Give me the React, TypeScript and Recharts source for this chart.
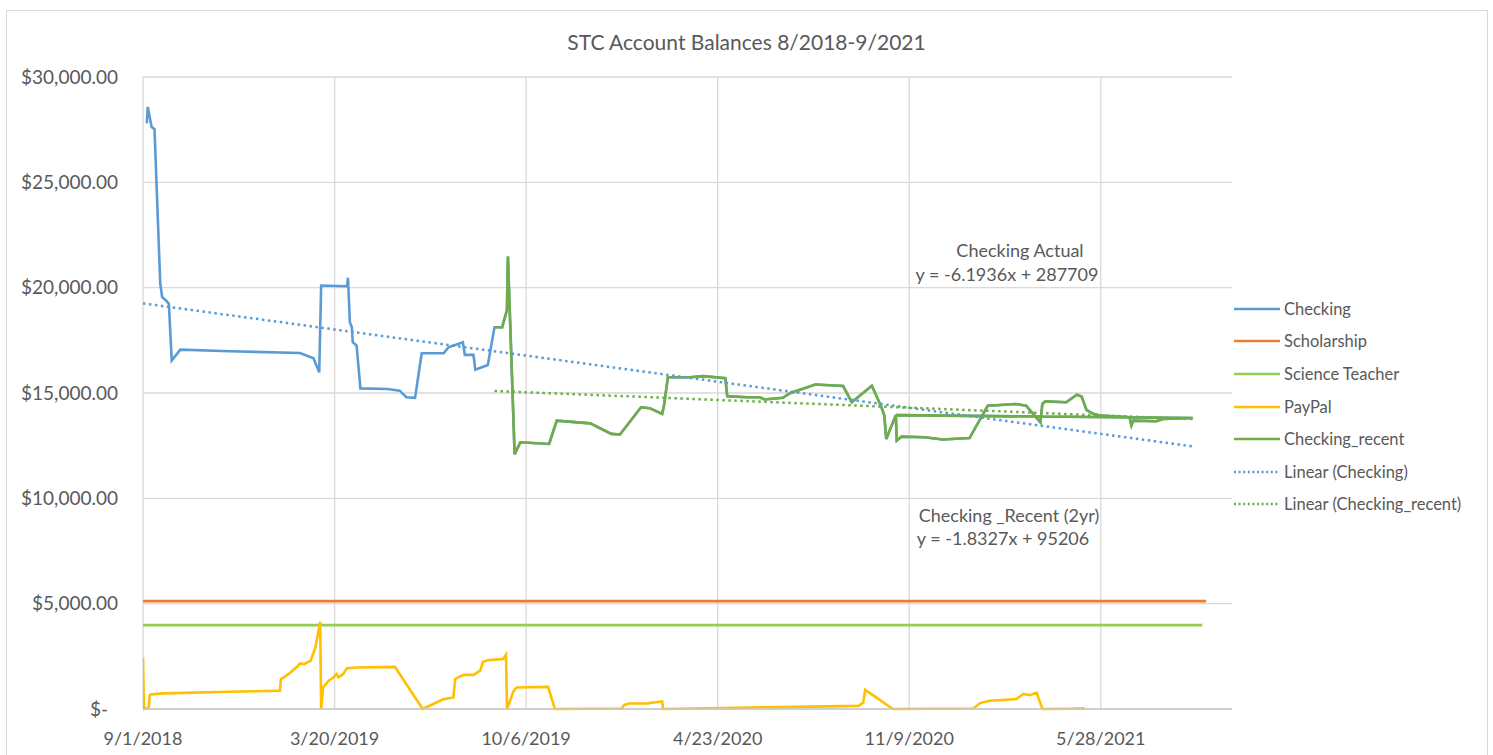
import React from "react";
import { CartesianGrid, Line, LineChart, ReferenceLine, XAxis, YAxis } from "recharts";

// x values are days since 9/1/2018 (Excel serial 43344)
const xTicks = [0, 200, 400, 600, 800, 1000];
const yTicks = [0, 5000, 10000, 15000, 20000, 25000, 30000];
const X_MAX = 1137;

const checkingEarly: [number, number][] = [
  [4, 27800], [5, 28580], [9, 27630], [12, 27520], [18, 20200], [20, 19550],
  [24, 19390], [27, 19240], [30, 16540], [39, 17060], [91, 16980], [164, 16900],
  [178, 16650], [184, 15980], [186, 20100], [213, 20070], [214, 20470], [216, 18360],
  [218, 18120], [219, 17410], [223, 17250], [227, 15220], [255, 15190], [268, 15110],
  [275, 14800], [284, 14770], [291, 16890], [314, 16890], [319, 17170], [334, 17410],
  [336, 16810], [345, 16810], [347, 16110], [360, 16330],
];

const checkingRecent: [number, number][] = [
  [367, 18120], [375, 18120], [380, 18950], [381, 21480], [388, 12100], [394, 12660],
  [424, 12580], [432, 13690], [467, 13560], [489, 13060], [498, 13030], [520, 14320],
  [529, 14280], [542, 14010], [544, 14410], [548, 15750], [571, 15750], [585, 15800],
  [608, 15700], [610, 14850], [630, 14800], [644, 14800], [649, 14690], [668, 14770],
  [676, 15000], [702, 15400], [731, 15330], [740, 14560], [761, 15340], [771, 14320],
  [774, 13930], [776, 12820], [786, 13950], [787, 12740], [792, 12930], [816, 12900],
  [835, 12790], [863, 12860], [882, 14400], [895, 14430], [911, 14480], [922, 14400],
  [937, 13610], [939, 14480], [942, 14600], [964, 14560], [975, 14920], [980, 14830],
  [985, 14200], [992, 14010], [999, 13930], [1030, 13850], [1032, 13460], [1034, 13690],
  [1058, 13660], [1065, 13770], [1096, 13810], [786, 13950],
];

const scholarship: [number, number][] = [[0, 5120], [1110, 5120]];
const scienceTeacher: [number, number][] = [[0, 3980], [1106, 3980]];

const paypal: [number, number][] = [
  [0, 2450], [1, 0], [6, 70], [7, 650], [8, 690], [21, 740], [91, 820], [140, 865],
  [143, 870], [144, 1420], [147, 1500], [154, 1730], [162, 2050], [164, 2160],
  [168, 2130], [175, 2290], [180, 2920], [185, 4140], [186, 0], [188, 1020],
  [194, 1340], [199, 1500], [202, 1660], [204, 1500], [209, 1660], [213, 1940],
  [223, 1970], [263, 2000], [291, 70], [292, 0], [314, 470], [324, 550], [326, 1420],
  [329, 1500], [335, 1620], [345, 1620], [352, 1820], [355, 2240], [361, 2320],
  [376, 2370], [379, 2570], [380, 0], [387, 860], [390, 1020], [423, 1050], [430, 0],
  [500, 25], [502, 180], [507, 260], [528, 260], [529, 290], [542, 360], [543, 0],
  [747, 150], [752, 310], [754, 910], [783, 0], [867, 25], [874, 280], [884, 390],
  [912, 470], [919, 710], [926, 660], [933, 780], [939, 0], [968, 10], [983, 30],
];

// trendline ends, from the equations shown on the chart
const checkingTrend: [number, number][] = [[0, 19254], [1096, 12465]];
const recentTrend: [number, number][] = [[367, 15097], [1096, 13761]];

const toRows = (pts: [number, number][]) => pts.map(([day, v]) => ({ day, v }));

const START = Date.UTC(2018, 8, 1);
const fmtDate = (d: number) => {
  const dt = new Date(START + d * 86400000);
  return `${dt.getUTCMonth() + 1}/${dt.getUTCDate()}/${dt.getUTCFullYear()}`;
};
const fmtMoney = (v: number) =>
  v === 0
    ? "$-"
    : "$" + v.toLocaleString("en-US", { minimumFractionDigits: 2, maximumFractionDigits: 2 });

const FONT = "Lato, 'Open Sans', sans-serif";
const TEXT = "#595959";
const GRID = "#d9d9d9";

const YTick = (props: any) => {
  const { x, y, payload } = props;
  const shift = payload.value === 0 ? 10 : 0;
  return (
    <text x={x - shift} y={y} dy="0.35em" textAnchor="end" fill={TEXT} fontSize={19} fontFamily={FONT}>
      {fmtMoney(payload.value)}
    </text>
  );
};

const legendItems = [
  { name: "Checking", color: "#5B9BD5", dotted: false },
  { name: "Scholarship", color: "#ED7D31", dotted: false },
  { name: "Science Teacher", color: "#92D050", dotted: false },
  { name: "PayPal", color: "#FFC000", dotted: false },
  { name: "Checking_recent", color: "#70AD47", dotted: false },
  { name: "Linear (Checking)", color: "#5B9BD5", dotted: true },
  { name: "Linear (Checking_recent)", color: "#70AD47", dotted: true },
];

const note = (left: number, top: number, text: string) => (
  <div
    style={{
      position: "absolute", left, top, width: 260, textAlign: "center",
      fontSize: 18, color: TEXT, fontFamily: FONT, lineHeight: "20px", whiteSpace: "nowrap",
    }}
  >
    {text}
  </div>
);

export default function App() {
  const lineProps = { type: "linear" as const, dataKey: "v", dot: false, isAnimationActive: false, strokeWidth: 2.6 };
  return (
    <div style={{ position: "absolute", left: 0, top: 0, width: 1493, height: 755, background: "#fff", overflow: "hidden" }}>
      <div style={{ position: "absolute", left: 6, top: 10, width: 1480, height: 770, border: "1px solid #d9d9d9" }} />
      <div
        style={{
          position: "absolute", left: 0, top: 30, width: 1493, textAlign: "center",
          fontSize: 21, color: TEXT, fontFamily: FONT, lineHeight: "24px",
        }}
      >
        STC Account Balances 8/2018-9/2021
      </div>
      <div style={{ position: "absolute", left: 0, top: 0 }}>
        <LineChart width={1493} height={755} margin={{ top: 77, right: 261, bottom: 0, left: 18 }}>
          <CartesianGrid stroke={GRID} strokeWidth={1.3} vertical={false} />
          {xTicks.map((t) => (
            <ReferenceLine key={t} x={t} stroke={GRID} strokeWidth={1.3} />
          ))}
          <XAxis
            type="number"
            dataKey="day"
            domain={[0, X_MAX]}
            ticks={xTicks}
            tickFormatter={fmtDate}
            height={46}
            tickLine={false}
            tickSize={0}
            tickMargin={23}
            axisLine={{ stroke: "#c8c8c8", strokeWidth: 1.5 }}
            tick={{ fill: TEXT, fontSize: 18, fontFamily: FONT }}
            allowDataOverflow
          />
          <YAxis
            type="number"
            domain={[0, 30000]}
            ticks={yTicks}
            width={125}
            tickLine={false}
            tickSize={0}
            tickMargin={25}
            axisLine={false}
            tick={<YTick />}
          />
          <Line {...lineProps} data={toRows([...checkingEarly, ...checkingRecent])} stroke="#5B9BD5" name="Checking" />
          <Line {...lineProps} data={toRows(scholarship)} stroke="#ED7D31" name="Scholarship" />
          <Line {...lineProps} data={toRows(scienceTeacher)} stroke="#92D050" name="Science Teacher" />
          <Line {...lineProps} data={toRows(paypal)} stroke="#FFC000" name="PayPal" />
          <Line {...lineProps} data={toRows(checkingRecent)} stroke="#70AD47" name="Checking_recent" />
          <Line {...lineProps} data={toRows(checkingTrend)} stroke="#5B9BD5" strokeDasharray="2.5 3.5" strokeWidth={2.5} name="Linear (Checking)" />
          <Line {...lineProps} data={toRows(recentTrend)} stroke="#70AD47" strokeDasharray="2.5 3.5" strokeWidth={2.5} name="Linear (Checking_recent)" />
        </LineChart>
      </div>
      {note(890, 240, "Checking Actual")}
      {note(877, 264, "y = -6.1936x + 287709")}
      {note(879, 505, "Checking _Recent (2yr)")}
      {note(873, 528, "y = -1.8327x + 95206")}
      <div style={{ position: "absolute", left: 1234, top: 292.5 }}>
        {legendItems.map((it, i) => (
          <div key={i} style={{ display: "flex", alignItems: "center", height: 32.6 }}>
            <svg width={50} height={10}>
              <line
                x1={0} y1={5} x2={it.dotted ? 44 : 46} y2={5}
                stroke={it.color} strokeWidth={2.5}
                strokeDasharray={it.dotted ? "2 2.6" : undefined}
              />
            </svg>
            <span style={{ fontSize: 16.5, color: TEXT, fontFamily: FONT, whiteSpace: "nowrap" }}>{it.name}</span>
          </div>
        ))}
      </div>
    </div>
  );
}
